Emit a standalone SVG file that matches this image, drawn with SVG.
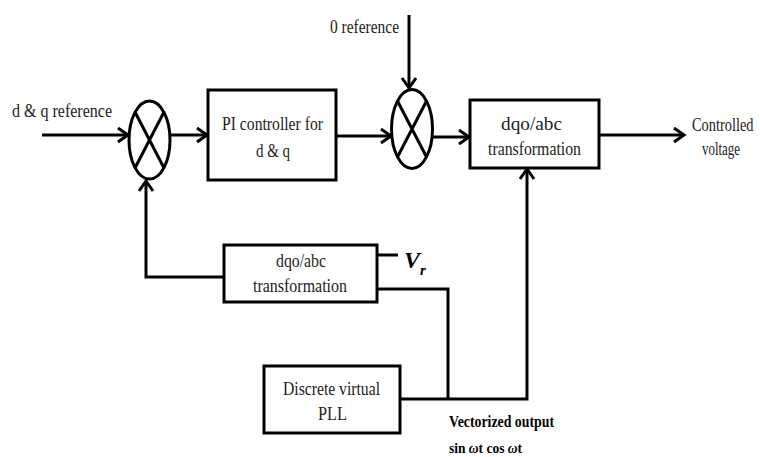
<svg xmlns="http://www.w3.org/2000/svg" width="760" height="457" viewBox="0 0 760 457">
<style>
.box{fill:#fff;stroke:#000;stroke-width:3}
.sum{fill:#fff;stroke:#000;stroke-width:3}
.ln{fill:none;stroke:#000;stroke-width:3}
.t{font-family:"Liberation Serif","Times New Roman",serif;font-size:18px;fill:#222;text-anchor:start}
.b{font-family:"Liberation Serif","Times New Roman",serif;font-size:16px;font-weight:bold;fill:#000}
</style>
<defs>
<marker id="arr" markerUnits="userSpaceOnUse" markerWidth="14" markerHeight="18" refX="11" refY="8" orient="auto">
<path d="M1,1 L11,8 L1,15" fill="none" stroke="#000" stroke-width="3"/>
</marker>
</defs>
<rect width="760" height="457" fill="#fff"/>
<g id="connectors">
<path class="ln" d="M42,135 H128" marker-end="url(#arr)"/>
<path class="ln" d="M170,135 H207" marker-end="url(#arr)"/>
<path class="ln" d="M336,136 H391" marker-end="url(#arr)"/>
<path class="ln" d="M409,15 V88" marker-end="url(#arr)"/>
<path class="ln" d="M433,137 H469" marker-end="url(#arr)"/>
<path class="ln" d="M599,135 H684" marker-end="url(#arr)"/>
<path class="ln" d="M224,277 H146 V181" marker-end="url(#arr)"/>
<path class="ln" d="M377,255 H398"/>
<path class="ln" d="M377,289 H448 V399"/>
<path class="ln" d="M400,399 H527 V169" marker-end="url(#arr)"/>
</g>
<g id="sum1">
<ellipse class="sum" cx="149.5" cy="140" rx="20.5" ry="39"/>
<path class="ln" d="M135,112 L164,168 M164,112 L135,168" stroke-width="2.5"/>
</g>
<g id="sum2">
<ellipse class="sum" cx="412" cy="129" rx="20.5" ry="39.5"/>
<path class="ln" d="M397.5,101 L426.5,157 M426.5,101 L397.5,157" stroke-width="2.5"/>
</g>
<g id="pi">
<rect class="box" x="208" y="90" width="128" height="90"/>
<text class="t" x="222" y="130" textLength="101" lengthAdjust="spacingAndGlyphs">PI controller for</text>
<text class="t" x="256" y="157" textLength="34" lengthAdjust="spacingAndGlyphs">d &amp; q</text>
</g>
<g id="dqo-top">
<rect class="box" x="470" y="100" width="129" height="68"/>
<text class="t" x="501" y="130" textLength="61" lengthAdjust="spacingAndGlyphs">dqo/abc</text>
<text class="t" x="488" y="155" textLength="93" lengthAdjust="spacingAndGlyphs">transformation</text>
</g>
<g id="dqo-bottom">
<rect class="box" x="224" y="245" width="153" height="57"/>
<text class="t" x="276" y="267" textLength="50" lengthAdjust="spacingAndGlyphs">dqo/abc</text>
<text class="t" x="253" y="292" textLength="94" lengthAdjust="spacingAndGlyphs">transformation</text>
</g>
<g id="pll">
<rect class="box" x="264" y="366" width="136" height="67"/>
<text class="t" x="283" y="395" textLength="97" lengthAdjust="spacingAndGlyphs">Discrete virtual</text>
<text class="t" x="318" y="420" textLength="29" lengthAdjust="spacingAndGlyphs">PLL</text>
</g>
<g id="labels">
<text class="t" x="12" y="117" textLength="100" lengthAdjust="spacingAndGlyphs">d  &amp; q reference</text>
<text class="t" x="330" y="33" textLength="69" lengthAdjust="spacingAndGlyphs">0 reference</text>
<text class="t" transform="translate(692,131) scale(0.8,1)" x="0" y="0">Controlled</text>
<text class="t" x="702" y="155" textLength="38" lengthAdjust="spacingAndGlyphs">voltage</text>
<text x="404" y="268" font-family="Liberation Serif, serif" font-size="24" font-weight="bold" font-style="italic" fill="#000">V<tspan font-size="15" dy="7">r</tspan></text>
<text class="b" x="449" y="427" textLength="105" lengthAdjust="spacingAndGlyphs">Vectorized output</text>
<text class="b" transform="translate(449,453) scale(0.9,1)" x="0" y="0" style="font-size:15px">sin <tspan font-style="italic">ω</tspan>t cos <tspan font-style="italic">ω</tspan>t</text>
</g>
</svg>
